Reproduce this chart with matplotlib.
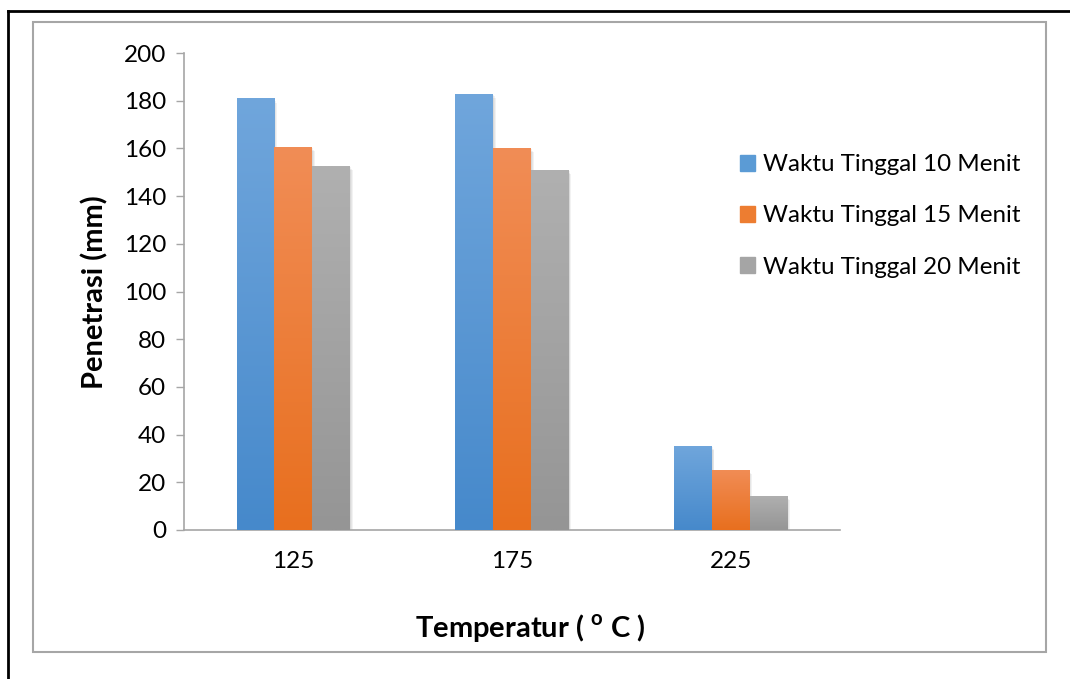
import numpy as np
import matplotlib
matplotlib.use("Agg")
import matplotlib.pyplot as plt
from matplotlib.colors import LinearSegmentedColormap
from matplotlib.patches import Rectangle
from matplotlib.lines import Line2D

plt.rcParams['font.family'] = ['Lato', 'DejaVu Sans']
plt.rcParams['mathtext.fontset'] = 'custom'
plt.rcParams['mathtext.rm'] = 'Lato:bold'
plt.rcParams['mathtext.bf'] = 'Lato:bold'

temperatures = ["125", "175", "225"]
series_names = ["Waktu Tinggal 10 Menit", "Waktu Tinggal 15 Menit", "Waktu Tinggal 20 Menit"]
waktu_10 = [181, 183, 35.3]
waktu_15 = [160.6, 160.2, 25.2]
waktu_20 = [152.6, 151, 14.3]

# top / bottom colours of the gradient fill
grad_colors = [("#70A6DC", "#4689CB"), ("#F18D56", "#E86F1E"), ("#B0B0B0", "#959595")]
mid_colors = ["#5B9BD5", "#ED7D31", "#A5A5A5"]

fig = plt.figure(figsize=(10.7, 6.79), dpi=100)
W, H = 1070, 679
ax = fig.add_axes([184 / W, 1 - 530 / H, (840 - 184) / W, (530 - 53) / H])

x = np.arange(len(temperatures))
width = 0.173
offsets = [-width, 0, width]
ax.set_xlim(-0.5, 2.5)
ax.set_ylim(0, 200)

for vals, off, (top, bot), mid in zip([waktu_10, waktu_15, waktu_20], offsets, grad_colors, mid_colors):
    # soft shadow
    for k in range(1, 4):
        ax.bar(x + off + 0.004 * k, vals, width, bottom=-0.6 * k, color="#000000",
               alpha=0.05, zorder=1, linewidth=0)
    bars = ax.bar(x + off, vals, width, color=mid, zorder=2, linewidth=0)
    cmap = LinearSegmentedColormap.from_list("g", [bot, top])
    grad = np.linspace(0, 1, 256).reshape(-1, 1)
    for b in bars:
        x0, w, h = b.get_x(), b.get_width(), b.get_height()
        im = ax.imshow(grad, cmap=cmap, extent=[x0, x0 + w, 0, h], origin="lower",
                       aspect="auto", zorder=3)
        im.set_clip_path(b)

ax.set_xlim(-0.5, 2.5)
ax.set_ylim(0, 200)
ax.set_xticks(x)
ax.set_xticklabels(temperatures)
ax.set_yticks(np.arange(0, 201, 20))
ax.tick_params(axis="y", length=6, width=1, color="#A6A6A6", labelsize=17.5, pad=7)
ax.tick_params(axis="x", length=0, labelsize=17.5, pad=15)
for s in ["top", "right"]:
    ax.spines[s].set_visible(False)
for s in ["left", "bottom"]:
    ax.spines[s].set_color("#A6A6A6")
    ax.spines[s].set_linewidth(1.2)

fig.text(95 / W, 1 - 292 / H, "Penetrasi (mm)", rotation=90, ha="center", va="center",
         fontsize=21, fontweight="bold")
fig.text(530 / W, 1 - 628 / H, r"Temperatur ( $^{\mathrm{o}}$ C )", ha="center", va="center",
         fontsize=21, fontweight="bold")

handles = [Rectangle((0, 0), 1, 1, color=c) for c in mid_colors]
fig.legend(handles, series_names, loc="center left", bbox_to_anchor=(740 / W, 1 - 216 / H),
           frameon=False, fontsize=17.4, handlelength=0.62, handleheight=0.62,
           handletextpad=0.33, labelspacing=1.25, borderpad=0, borderaxespad=0)

# chart area border and outer frame
fig.patches.append(Rectangle((33 / W, 1 - 652 / H), (1046 - 33) / W, (652 - 22) / H,
                             transform=fig.transFigure, fill=False, edgecolor="#A6A6A6", lw=1.5))
fig.lines.append(Line2D([8 / W, 1], [1 - 11 / H, 1 - 11 / H], transform=fig.transFigure,
                        color="black", lw=2))
fig.lines.append(Line2D([8 / W, 8 / W], [0, 1 - 11 / H], transform=fig.transFigure,
                        color="black", lw=2))

fig.savefig("out.png", dpi=100)
